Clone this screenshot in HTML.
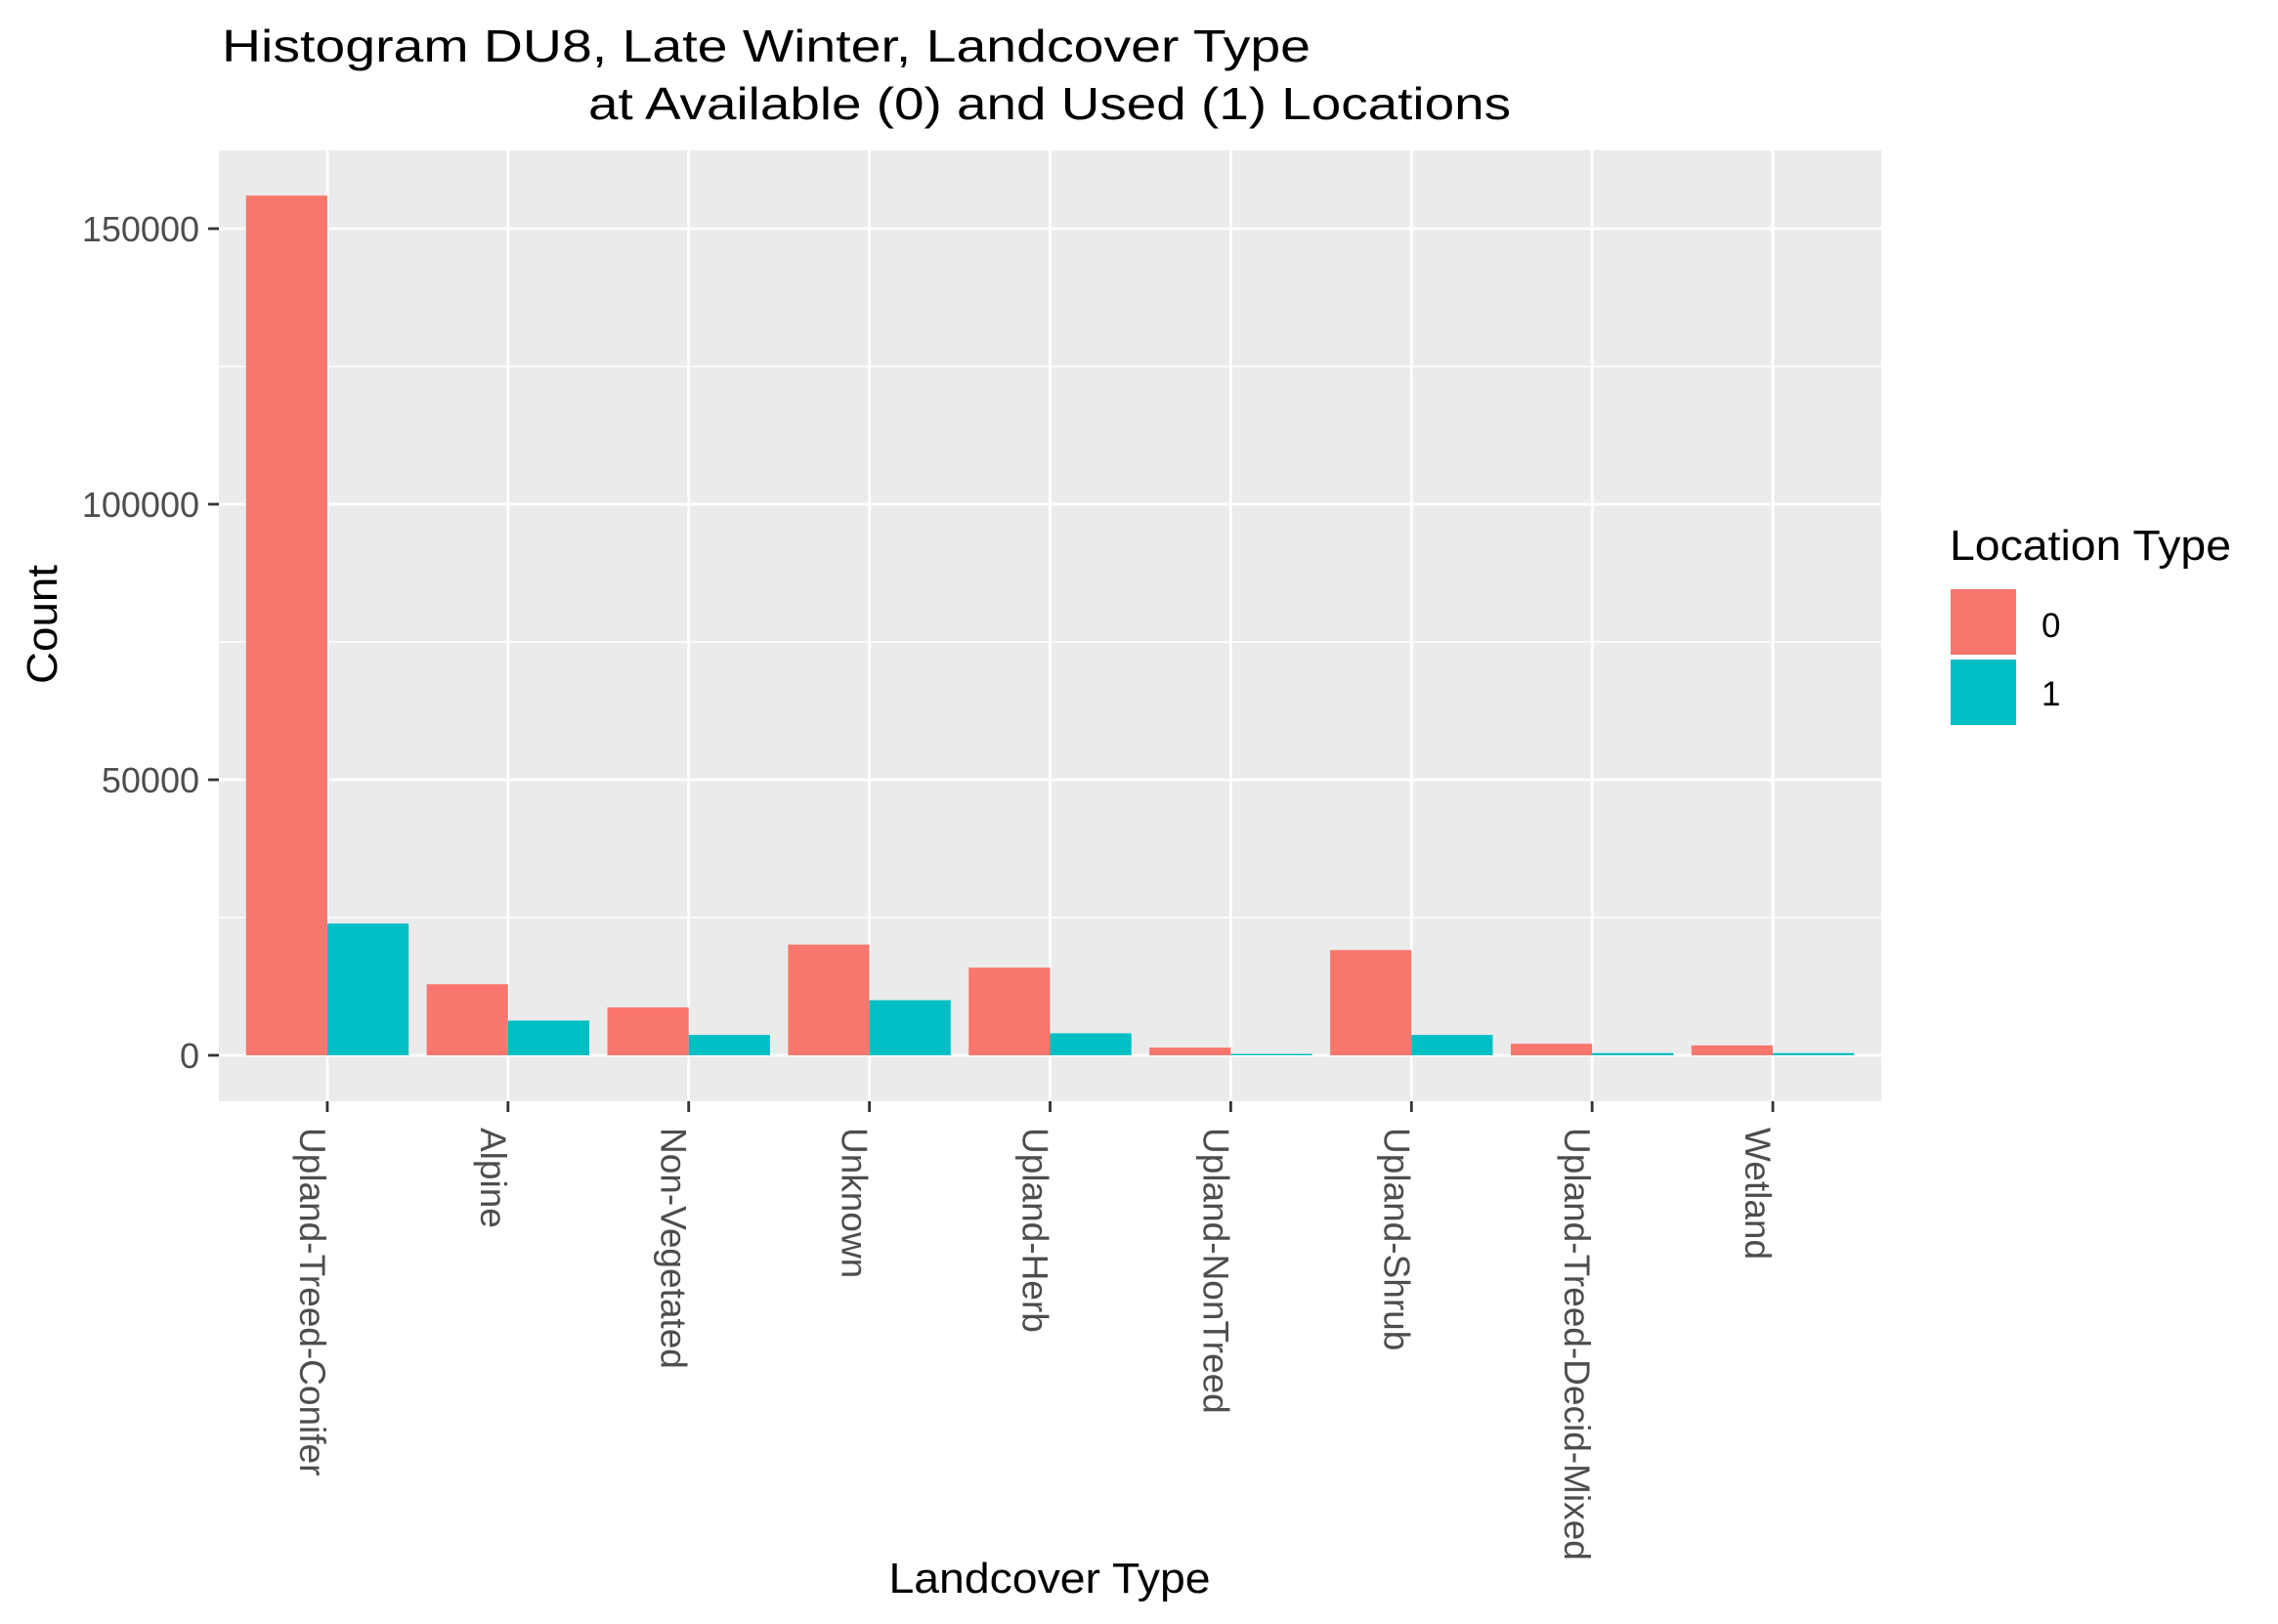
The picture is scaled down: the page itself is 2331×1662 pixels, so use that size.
<!DOCTYPE html>
<html><head><meta charset="utf-8"><style>
html,body{margin:0;padding:0;background:#fff;}
svg{display:block;font-family:"Liberation Sans",Arial,sans-serif;}
</style></head><body>
<svg id="chart" width="2331" height="1662" viewBox="0 0 2331 1662" xmlns="http://www.w3.org/2000/svg">
<rect width="2331" height="1662" fill="#fff"/>
<text x="227" y="63" font-size="46" textLength="1114" lengthAdjust="spacingAndGlyphs" fill="#000">Histogram DU8, Late Winter, Landcover Type</text>
<text x="602" y="122" font-size="46" textLength="944" lengthAdjust="spacingAndGlyphs" fill="#000">at Available (0) and Used (1) Locations</text>
<g id="plot"></g>
<text transform="translate(58,639) rotate(-90)" text-anchor="middle" font-size="44" textLength="122" lengthAdjust="spacingAndGlyphs" fill="#000">Count</text>
<text x="1074" y="1630" text-anchor="middle" font-size="44" textLength="329" lengthAdjust="spacingAndGlyphs" fill="#000">Landcover Type</text>
<g>
<text x="1995" y="573" font-size="44" textLength="288" lengthAdjust="spacingAndGlyphs" fill="#000">Location Type</text>
<rect x="1996" y="603" width="67" height="67" fill="#F8766D"/>
<text x="2089" y="652" font-size="35" fill="#000">0</text>
<rect x="1996" y="675" width="67" height="67" fill="#00BFC4"/>
<text x="2089" y="722" font-size="35" fill="#000">1</text>
</g>
</svg>
<script>
const categories = ["Upland-Treed-Conifer","Alpine","Non-Vegetated","Unknown","Upland-Herb","Upland-NonTreed","Upland-Shrub","Upland-Treed-Decid-Mixed","Wetland"];
const available = [156000, 12900, 8700, 20100, 15900, 1400, 19100, 2100, 1800];
const used = [23900, 6300, 3700, 10000, 4000, 250, 3700, 400, 400];
const yTicks = [0, 50000, 100000, 150000];
const yTickLabels = ["0", "50000", "100000", "150000"];
const yMinor = [25000, 75000, 125000];

const NS = "http://www.w3.org/2000/svg";
const g = document.getElementById("plot");
const PL = 224, PR = 1925, PT = 154, PB = 1127;
const y0 = 1080, yPer = (1080 - 234) / 150000;
const band = (PR - PL) / (categories.length + 0.2);
function xC(i){ return PL + band * (0.6 + i); }
function yS(v){ return y0 - v * yPer; }
function mk(tag, attrs){ const e = document.createElementNS(NS, tag); for (const k in attrs) e.setAttribute(k, attrs[k]); g.appendChild(e); return e; }

let e = mk("rect", {x:PL, y:PT, width:PR-PL, height:PB-PT, fill:"#EBEBEB"});


yMinor.forEach(v => {
  const l = mk("line", {x1:PL, x2:PR, y1:yS(v), y2:yS(v), stroke:"#fff", "stroke-width":1.4});
  
  
});
yTicks.forEach((v, i) => {
  const l = mk("line", {x1:PL, x2:PR, y1:yS(v), y2:yS(v), stroke:"#fff", "stroke-width":2.8});
  
  
  const t = mk("line", {x1:PL-11, x2:PL, y1:yS(v), y2:yS(v), stroke:"#333", "stroke-width":2.8});
  
  
  const tx = mk("text", {x:PL-20, y:yS(v)+13, "text-anchor":"end", "font-size":36, fill:"#4D4D4D"});
  tx.textContent = yTickLabels[i];
  
  
});
categories.forEach((c, i) => {
  const x = xC(i);
  const l = mk("line", {x1:x, x2:x, y1:PT, y2:PB, stroke:"#fff", "stroke-width":2.8});
  
  
});
const bw = band * 0.45;
categories.forEach((c, i) => {
  const x = xC(i);
  const r0 = mk("rect", {x:x-bw, y:yS(available[i]), width:bw, height:y0-yS(available[i]), fill:"#F8766D"});
  
  
  const r1 = mk("rect", {x:x, y:yS(used[i]), width:bw, height:y0-yS(used[i]), fill:"#00BFC4"});
  
  
  const t = mk("line", {x1:x, x2:x, y1:PB, y2:PB+11, stroke:"#333", "stroke-width":2.8});
  
  
  const tx = mk("text", {transform:"translate(" + (x-28) + "," + (PB+27) + ") rotate(90)", "font-size":37, fill:"#4D4D4D"});
  tx.textContent = c;
  
  
});
</script>
</body></html>
